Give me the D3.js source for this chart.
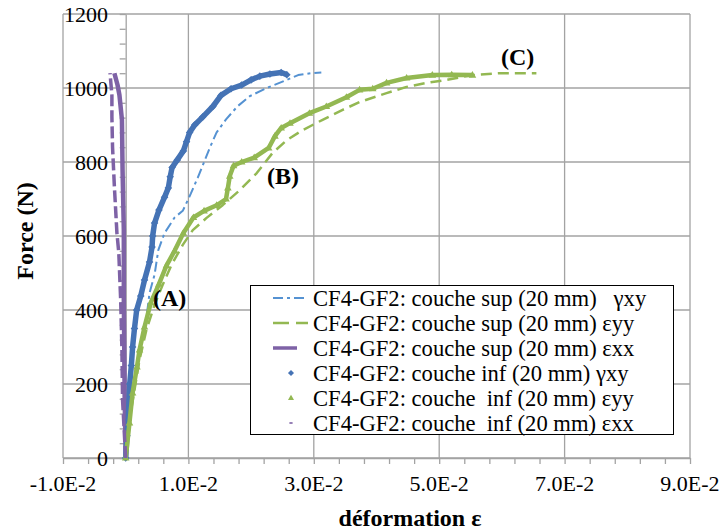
<!DOCTYPE html>
<html>
<head>
<meta charset="utf-8">
<script src="https://cdn.jsdelivr.net/npm/d3@7"></script>
<style>
body { margin: 0; background: #ffffff; }
</style>
</head>
<body>
<svg id="chart" width="724" height="531"></svg>
<script>
// values: [strain, force (N)]
let supGxy = [[0,0],[0.0003,76],[0.0008,157],[0.0016,238],[0.0025,319],[0.0033,378],[0.0038,446],
    [0.0046,495],[0.0052,562],[0.0062,608],[0.0078,650],[0.0091,668],[0.0104,715],[0.0115,758],
    [0.0125,800],[0.0134,838],[0.0145,880],[0.0160,915],[0.0178,950],[0.0198,978],[0.0225,1000],
    [0.0257,1022],[0.0275,1035],[0.0295,1040],[0.0312,1042]];
let supEyy = [[0,0],[0.0006,103],[0.0014,184],[0.0022,265],[0.0033,346],[0.0046,414],[0.0059,468],
    [0.0073,522],[0.0091,576],[0.0107,616],[0.0129,649],[0.0155,684],[0.0182,724],[0.0209,770],
    [0.0234,824],[0.0257,859],[0.0282,886],[0.0314,914],[0.0346,941],[0.0373,962],[0.0416,986],
    [0.0448,1003],[0.0480,1014],[0.0512,1022],[0.0553,1035],[0.0596,1040],[0.0655,1040]];
let supExx = [[0,0],[-0.00016,157],[-0.0003,427],[-0.0003,616],[-0.0005,778],[-0.0006,914],
    [-0.0010,981],[-0.0013,1008],[-0.0016,1027],[-0.0018,1040]];
let infGxy = [[0,0],[0.0002,60],[0.0004,103],[0.00064,200],[0.0009,250],[0.0011,300],[0.0014,350],
    [0.00175,400],[0.0024,438],[0.0030,481],[0.0038,530],[0.0042,570],[0.0043,600],[0.0046,635],
    [0.0053,670],[0.0062,705],[0.0068,730],[0.0071,760],[0.0074,785],[0.0082,805],[0.0092,830],
    [0.0097,855],[0.0102,880],[0.0110,900],[0.0123,922],[0.0139,950],[0.0152,980],[0.0168,998],
    [0.0185,1008],[0.0200,1022],[0.0214,1032],[0.0230,1038],[0.0248,1042],[0.0257,1036]];
let infEyy = [[0,0],[0.0006,95],[0.0011,176],[0.0018,246],[0.0022,292],[0.0030,354],[0.0040,420],
    [0.0053,470],[0.0065,520],[0.0078,560],[0.0092,608],[0.0108,650],[0.0125,668],[0.0145,683],
    [0.0160,700],[0.0163,730],[0.0166,762],[0.0172,790],[0.0185,800],[0.0205,812],[0.0228,838],
    [0.0238,870],[0.0248,892],[0.0262,905],[0.0293,932],[0.0320,950],[0.0352,975],[0.0373,995],
    [0.0394,998],[0.0416,1014],[0.0448,1027],[0.0489,1035],[0.0520,1036],[0.0553,1035]];
let infExx = [[0,0],[-0.00016,49],[-0.0005,157],[-0.0006,292],[-0.0008,427],[-0.0011,554],
    [-0.0014,608],[-0.0018,732],[-0.0021,841],[-0.0022,922],[-0.0022,981],[-0.0025,1040]];

let xTicks = [-0.01, 0.01, 0.03, 0.05, 0.07, 0.09];
let xTickLabels = ['-1.0E-2', '1.0E-2', '3.0E-2', '5.0E-2', '7.0E-2', '9.0E-2'];
let yTicks = [0, 200, 400, 600, 800, 1000, 1200];
let yTickLabels = ['0', '200', '400', '600', '800', '1000', '1200'];

let legendLabels = [
    'CF4-GF2: couche sup (20 mm)   \u03B3xy',
    'CF4-GF2: couche sup (20 mm) \u03B5yy',
    'CF4-GF2: couche sup (20 mm) \u03B5xx',
    'CF4-GF2: couche inf (20 mm) \u03B3xy',
    'CF4-GF2: couche  inf (20 mm) \u03B5yy',
    'CF4-GF2: couche  inf (20 mm) \u03B5xx'
];
let notes = [
    { label: '(A)', x: 0.0070, f: 411 },
    { label: '(B)', x: 0.0251, f: 740 },
    { label: '(C)', x: 0.0625, f: 1062 }
];

let serif = "'Liberation Serif', 'Times New Roman', Times, 'DejaVu Serif', serif";
let gridColor = '#a3a3a3';
let series = [
    { _id: 0, data: supGxy, kind: 'line', color: '#5592d2', width: 2, dash: '10,4,3,4' },
    { _id: 1, data: supEyy, kind: 'line', color: '#93b852', width: 2.5, dash: '11,6' },
    { _id: 2, data: supExx, kind: 'line', color: '#7e62a6', width: 4.5, dash: null },
    { _id: 3, data: infGxy, kind: 'diamond', color: '#4573b5', width: 5.5, dash: null },
    { _id: 4, data: infEyy, kind: 'triangle', color: '#93b852', width: 4.5, dash: null },
    { _id: 5, data: infExx, kind: 'bar', color: '#7e62a6', width: 3.5, dash: '12,4' }
];

function markerPath (kind) {
    if (kind === 'diamond') return 'M0,-3.8L3.8,0L0,3.8L-3.8,0Z';
    if (kind === 'triangle') return 'M0,-4L3.8,2.6L-3.8,2.6Z';
    return 'M-2,-1L2,-1L2,1L-2,1Z';
}

function makeScales () {
    let x = d3.scaleLinear().domain([-0.01, 0.09]).range([63, 690]);
    let y = d3.scaleLinear().domain([0, 1200]).range([458, 14]);
    return { x: x, y: y };
}

function drawGrid (svg, sc) {
    let g = svg.append('g').attr('class', 'grid');

    g.selectAll('line.vgrid')
        .data(xTicks)
        .enter()
        .append('line')
        .attr('class', 'vgrid')
        .attr('x1', (d) => sc.x(d)).attr('x2', (d) => sc.x(d))
        .attr('y1', sc.y(0)).attr('y2', sc.y(1200))
        .attr('stroke', gridColor).attr('stroke-width', 1.3);

    g.selectAll('line.hgrid')
        .data(yTicks)
        .enter()
        .append('line')
        .attr('class', 'hgrid')
        .attr('x1', sc.x(-0.01)).attr('x2', sc.x(0.09))
        .attr('y1', (d) => sc.y(d)).attr('y2', (d) => sc.y(d))
        .attr('stroke', gridColor).attr('stroke-width', 1.3);
}

function drawAxes (svg, sc) {
    let xMinor = d3.range(-0.01, 0.0901, 0.004);
    let yMinor = d3.range(0, 1201, 40);

    let xa = svg.append('g')
        .attr('transform', 'translate(0,' + sc.y(0) + ')')
        .call(d3.axisBottom(sc.x).tickValues(xMinor).tickSize(6).tickSizeOuter(0).tickFormat(''));
    let ya = svg.append('g')
        .attr('transform', 'translate(' + sc.x(0) + ',0)')
        .call(d3.axisLeft(sc.y).tickValues(yMinor).tickSize(6).tickSizeOuter(0).tickFormat(''));
    [xa, ya].forEach((a) => {
        a.selectAll('path, line').attr('stroke', gridColor).attr('stroke-width', 1.3);
    });

    svg.append('g').selectAll('text.xlab')
        .data(xTicks)
        .enter()
        .append('text')
        .attr('class', 'xlab')
        .attr('x', (d) => sc.x(d))
        .attr('y', 491)
        .attr('text-anchor', 'middle')
        .attr('font-family', serif)
        .attr('font-size', 22)
        .text((d, i) => xTickLabels[i]);

    svg.append('g').selectAll('text.ylab')
        .data(yTicks)
        .enter()
        .append('text')
        .attr('class', 'ylab')
        .attr('x', 108)
        .attr('y', (d) => sc.y(d) + 7.5)
        .attr('text-anchor', 'end')
        .attr('font-family', serif)
        .attr('font-size', 22)
        .text((d, i) => yTickLabels[i]);

    svg.append('text')
        .attr('x', 410).attr('y', 526)
        .attr('text-anchor', 'middle')
        .attr('font-family', serif)
        .attr('font-size', 24).attr('font-weight', 'bold')
        .text('d\u00e9formation \u03B5');

    svg.append('text')
        .attr('transform', 'translate(33,231) rotate(-90)')
        .attr('text-anchor', 'middle')
        .attr('font-family', serif)
        .attr('font-size', 24).attr('font-weight', 'bold')
        .text('Force (N)');
}

function drawSeries (svg, sc) {
    let line = d3.line()
        .x((d) => sc.x(d[0]))
        .y((d) => sc.y(d[1]))
        .curve(d3.curveLinear);

    let g = svg.append('g').attr('class', 'series');

    series.forEach((s) => {
        g.append('path')
            .datum(s.data)
            .attr('d', line)
            .attr('fill', 'none')
            .attr('stroke', s.color)
            .attr('stroke-width', s.width)
            .attr('stroke-linejoin', 'round')
            .attr('stroke-dasharray', s.dash);

        if (s.kind === 'diamond' || s.kind === 'triangle') {
            g.selectAll('path.m' + s._id)
                .data(s.data)
                .enter()
                .append('path')
                .attr('class', 'm' + s._id)
                .attr('d', markerPath(s.kind))
                .attr('transform', (d) => 'translate(' + sc.x(d[0]) + ',' + sc.y(d[1]) + ')')
                .attr('fill', s.color);
        }
    });
}

function drawNotes (svg, sc) {
    svg.append('g').selectAll('text.note')
        .data(notes)
        .enter()
        .append('text')
        .attr('class', 'note')
        .attr('x', (d) => sc.x(d.x))
        .attr('y', (d) => sc.y(d.f))
        .attr('text-anchor', 'middle')
        .attr('font-family', serif)
        .attr('font-size', 24).attr('font-weight', 'bold')
        .text((d) => d.label);
}

function drawLegend (svg) {
    let g = svg.append('g').attr('class', 'legend');
    g.append('rect')
        .attr('x', 250.5).attr('y', 285.5)
        .attr('width', 423).attr('height', 149)
        .attr('fill', '#ffffff').attr('stroke', '#000').attr('stroke-width', 1);

    let rows = g.selectAll('g.row')
        .data(series, (d) => d._id)
        .enter()
        .append('g')
        .attr('class', 'row')
        .attr('transform', (d, i) => 'translate(0,' + (298 + i * 25) + ')');

    rows.filter((d) => d.kind === 'line')
        .append('line')
        .attr('x1', 273)
        .attr('x2', (d) => d.dash ? 308 : 297)
        .attr('y1', 0).attr('y2', 0)
        .attr('stroke', (d) => d.color)
        .attr('stroke-width', (d) => Math.min(d.width, 3.5))
        .attr('stroke-dasharray', (d) => d.dash === '11,6' ? '16,7' : d.dash);

    rows.filter((d) => d.kind !== 'line')
        .append('path')
        .attr('d', (d) => markerPath(d.kind))
        .attr('transform', 'translate(291,0) scale(0.8)')
        .attr('fill', (d) => d.color);

    rows.append('text')
        .attr('x', 313)
        .attr('y', 7.5)
        .attr('font-family', serif)
        .attr('font-size', 22.6)
        .style('white-space', 'pre')
        .text((d, i) => legendLabels[i]);
}

function makeChart () {
    let svg = d3.select('#chart');
    let sc = makeScales();
    drawGrid(svg, sc);
    drawAxes(svg, sc);
    drawSeries(svg, sc);
    drawNotes(svg, sc);
    drawLegend(svg);
}

makeChart();
</script>
</body>
</html>
